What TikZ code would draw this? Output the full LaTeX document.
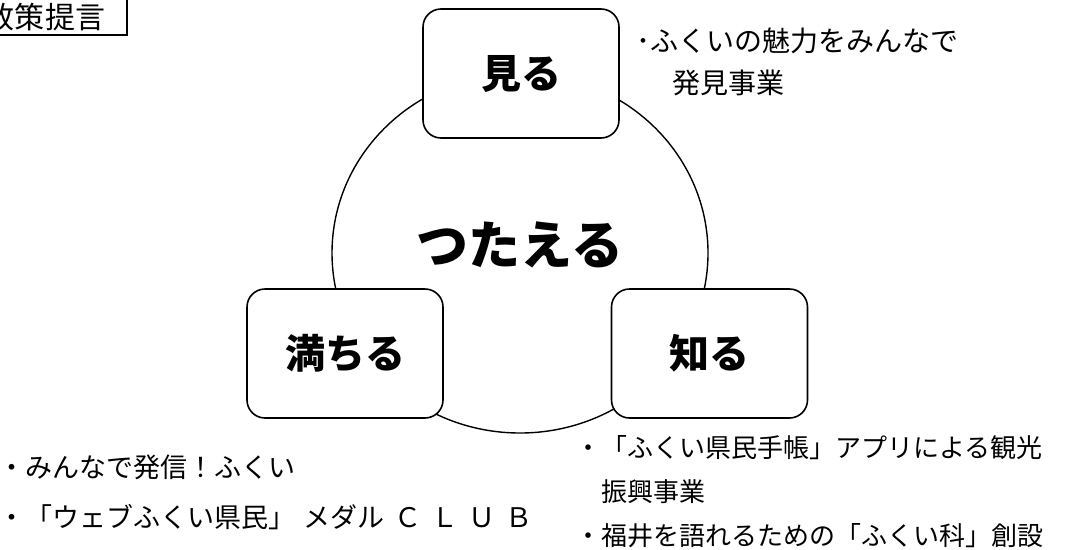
\documentclass[tikz,border=0pt]{standalone}
\usepackage{fontspec}
\usetikzlibrary{shapes.geometric}
\newfontfamily\jp{Noto Sans CJK JP}
\newcommand\spc[1]{#1\kern10pt}
\tikzset{
  x=1pt, y=-1pt,
  keybox/.style={draw, line width=1.6pt, rounded corners=18pt, fill=white,
    minimum width=196pt, minimum height=129pt, inner sep=0pt,
    font=\jp\bfseries\fontsize{40}{48}\selectfont},
  ring/.style={draw, line width=1.4pt, ellipse, minimum width=376pt, minimum height=360pt, inner sep=0pt},
  bigword/.style={font=\jp\bfseries\fontsize{52}{60}\selectfont, inner sep=0pt},
  note/.style={anchor=west, inner sep=0pt, font=\jp\fontsize{26}{30}\selectfont},
  notetop/.style={note, font=\jp\fontsize{28}{32}\selectfont},
  noteleft/.style={note, font=\jp\fontsize{27}{31}\selectfont},
  tag/.style={inner sep=0pt, font=\jp\fontsize{30}{34}\selectfont}
}
\begin{document}
\begin{tikzpicture}
\useasboundingbox (0,0) rectangle (1086,549);
\fill[white] (0,0) rectangle (1086,549);
% title tag, partly outside the picture
\node[tag] (title) at (45,17) {政策提言};
\coordinate (tagTL) at (-20,-20);
\coordinate (tagBR) at (127,35);
\draw[line width=2pt] (tagTL) rectangle (tagBR);
% central circle
\node[ring] (circ) at (520,253) {};
\node[bigword] (center) at (520,245) {つたえる};
% three boxes
\node[keybox] (miru) at (521,73.5) {見る};
\node[keybox] (michiru) at (345,353.5) {満ちる};
\node[keybox] (shiru) at (709.5,353.5) {知る};
% notes
\node[notetop] (n1a) at (636,41) {･ふくいの魅力をみんなで};
\node[notetop] (n1b) at (672,83) {発見事業};
\node[noteleft] (n2a) at (-2,467) {・みんなで発信！ふくい};
\node[noteleft] (n2b) at (-2,517) {・「ウェブふくい県民」\kern8pt メダ\spc{ル}\spc{Ｃ}\spc{Ｌ}\spc{Ｕ}Ｂ};
\node[note] (n3a) at (575,448) {・「ふくい県民手帳」アプリによる観光};
\node[note] (n3b) at (601,492) {振興事業};
\node[note] (n3c) at (575,536) {・福井を語れるための「ふくい科」創設};
\end{tikzpicture}
\end{document}
